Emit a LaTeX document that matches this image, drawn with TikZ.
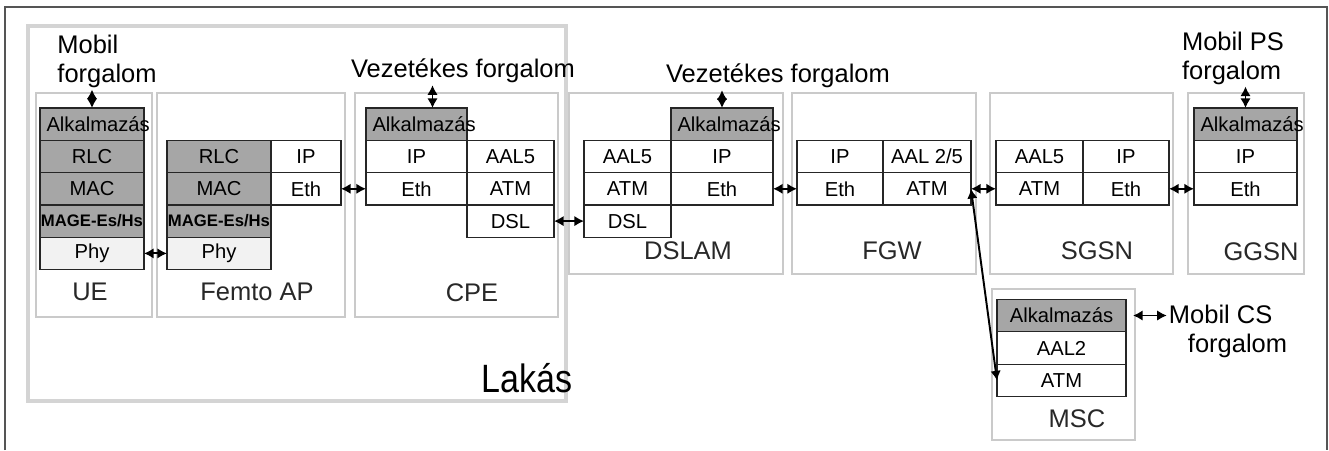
\documentclass[tikz,border=0pt]{standalone}
\usepackage{fontspec}
\setmainfont{Liberation Sans}
\newfontfamily\lakasfont[FakeStretch=0.86]{Liberation Sans}
\usetikzlibrary{arrows.meta,calc}
\definecolor{layergray}{RGB}{166,166,166}
\definecolor{phygray}{RGB}{242,242,242}
\definecolor{boxgray}{RGB}{202,202,202}
\definecolor{lakasgray}{RGB}{212,212,212}
\definecolor{framedark}{RGB}{85,85,85}
\definecolor{labelgray}{RGB}{40,40,40}

\begin{document}
\begin{tikzpicture}[x=0.02cm, y=-0.02cm]
    \tikzstyle{cell} = [rectangle, draw=black!85, line width=0.7pt, fill=white, inner sep=0pt, outer sep=0pt,
                        minimum height=0.646cm, font=\fontsize{11.5}{12}\selectfont]
    \tikzstyle{dark} = [cell, fill=layergray]
    \tikzstyle{light} = [cell, fill=phygray]
    \tikzstyle{app} = [dark, inner xsep=0.13cm, align=left]
    \tikzstyle{mage} = [dark, font=\fontsize{9.5}{10}\selectfont\bfseries]
    \tikzstyle{host} = [draw=boxgray, line width=1.6pt]
    \tikzstyle{home} = [draw=lakasgray, line width=2.8pt]
    \tikzstyle{devname} = [font=\fontsize{14.5}{15}\selectfont, text=labelgray, inner sep=1pt]
    \tikzstyle{traffic} = [font=\fontsize{14.5}{16.5}\selectfont, inner sep=1pt, align=left]
    \tikzstyle{link} = [{Latex[length=5.5pt,width=6pt]}-{Latex[length=5.5pt,width=6pt]}, line width=1.1pt, black]

    \useasboundingbox (0,0) rectangle (1329,450);
    \draw[framedark, line width=0.8pt] (5,450) -- (5,7) -- (1327,7) -- (1327,450);

    % Lakas
    \draw[home] (28,26) rectangle (566,401);
    \node[font=\lakasfont\fontsize{22.5}{24}\selectfont, inner sep=1pt] (lakas) at (527,378) {Lakás};

    % UE
    \draw[host] (36,93) rectangle (152,317);
    \node[app, minimum width=2.08cm, text width=1.82cm] (ueapp) at (92,124.2) {\mbox{Alkalmazás}};
    \node[dark, minimum width=2.08cm] (uerlc) at (92,156.5) {RLC};
    \node[dark, minimum width=2.08cm] (uemac) at (92,188.8) {MAC};
    \node[mage, minimum width=2.08cm] (uemage) at (92,221.1) {MAGE-Es/Hs};
    \node[light, minimum width=2.08cm] (uephy) at (92,253.4) {Phy};
    \node[devname] (uename) at (90,292) {UE};

    % Femto AP
    \draw[host] (157,93) rectangle (345,317);
    \node[dark, minimum width=2.08cm] (femrlc) at (219,156.5) {RLC};
    \node[dark, minimum width=2.08cm] (femmac) at (219,188.8) {MAC};
    \node[mage, minimum width=2.08cm] (femmage) at (219,221.1) {MAGE-Es/Hs};
    \node[light, minimum width=2.08cm] (femphy) at (219,253.4) {Phy};
    \node[cell, minimum width=1.40cm] (femip) at (306,156.5) {IP};
    \node[cell, minimum width=1.40cm] (femeth) at (306,188.8) {Eth};
    \node[devname] (femname) at (257,292) {Femto AP};

    % CPE
    \draw[host] (355,93) rectangle (558,317);
    \node[app, minimum width=2.02cm, text width=1.76cm] (cpeapp) at (416.5,124.2) {\mbox{Alkalmazás}};
    \node[cell, minimum width=2.02cm] (cpeip) at (416.5,156.5) {IP};
    \node[cell, minimum width=2.02cm] (cpeeth) at (416.5,188.8) {Eth};
    \node[cell, minimum width=1.74cm] (cpeaal) at (510.5,156.5) {AAL5};
    \node[cell, minimum width=1.74cm] (cpeatm) at (510.5,188.8) {ATM};
    \node[cell, minimum width=1.74cm] (cpedsl) at (510.5,221.1) {DSL};
    \node[devname] (cpename) at (472,293) {CPE};

    % DSLAM
    \draw[host] (569,93) rectangle (783,274);
    \node[cell, minimum width=1.74cm] (dslamaal) at (627.5,156.5) {AAL5};
    \node[cell, minimum width=1.74cm] (dslamatm) at (627.5,188.8) {ATM};
    \node[cell, minimum width=1.74cm] (dslamdsl) at (627.5,221.1) {DSL};
    \node[app, minimum width=2.04cm, text width=1.78cm] (dslamapp) at (722,124.2) {\mbox{Alkalmazás}};
    \node[cell, minimum width=2.04cm] (dslamip) at (722,156.5) {IP};
    \node[cell, minimum width=2.04cm] (dslameth) at (722,188.8) {Eth};
    \node[devname] (dslamname) at (688,251) {DSLAM};

    % FGW
    \draw[host] (792,93) rectangle (976,274);
    \node[cell, minimum width=1.72cm] (fgwip) at (840,156.5) {IP};
    \node[cell, minimum width=1.72cm] (fgweth) at (840,188.8) {Eth};
    \node[cell, minimum width=1.76cm] (fgwaal) at (927,156.5) {AAL 2/5};
    \node[cell, minimum width=1.76cm] (fgwatm) at (927,188.8) {ATM};
    \node[devname] (fgwname) at (892,251) {FGW};

    % SGSN
    \draw[host] (990,93) rectangle (1173,274);
    \node[cell, minimum width=1.74cm] (sgsnaal) at (1039.5,156.5) {AAL5};
    \node[cell, minimum width=1.74cm] (sgsnatm) at (1039.5,188.8) {ATM};
    \node[cell, minimum width=1.72cm] (sgsnip) at (1126,156.5) {IP};
    \node[cell, minimum width=1.72cm] (sgsneth) at (1126,188.8) {Eth};
    \node[devname] (sgsnname) at (1097,251) {SGSN};

    % GGSN
    \draw[host] (1188,93) rectangle (1304,274);
    \node[app, minimum width=2.06cm, text width=1.80cm] (ggsnapp) at (1245.5,124.2) {\mbox{Alkalmazás}};
    \node[cell, minimum width=2.06cm] (ggsnip) at (1245.5,156.5) {IP};
    \node[cell, minimum width=2.06cm] (ggsneth) at (1245.5,188.8) {Eth};
    \node[devname] (ggsnname) at (1261,252) {GGSN};

    % MSC
    \draw[host] (992,289) rectangle (1135,440);
    \node[dark, minimum width=2.58cm] (mscapp) at (1061.5,315.5) {Alkalmazás};
    \node[cell, minimum width=2.58cm] (mscaal) at (1061.5,348) {AAL2};
    \node[cell, minimum width=2.58cm] (mscatm) at (1061.5,380.5) {ATM};
    \node[devname] (mscname) at (1077,419) {MSC};

    % Traffic
    \node[traffic] (uetraffic) at (107,61) {Mobil\\forgalom};
    \node[traffic] (cpetraffic) at (463,71) {Vezetékes forgalom};
    \node[traffic] (dslamtraffic) at (778,76) {Vezetékes forgalom};
    \node[traffic] (ggsntraffic) at (1233,58) {Mobil PS\\forgalom};
    \node[traffic] (msctraffic) at (1228,331) {Mobil CS\\\hspace*{0.38cm}forgalom};

    % Connections
    \coordinate (cpeport) at ([xshift=0.32cm]cpeapp.north);
    \draw[link] (ueapp.north) -- (ueapp.north |- uetraffic.south);
    \draw[link] (cpeport) -- (cpeport |- cpetraffic.south);
    \draw[link] (dslamapp.north) -- (dslamapp.north |- dslamtraffic.south);
    \draw[link] (ggsnapp.north) -- (ggsnapp.north |- ggsntraffic.south);
    \draw[link, shorten <=0.14cm] (mscapp.east) -- (mscapp.east -| msctraffic.west);

    \draw[link] (uephy) -- (femphy);
    \draw[link] (femeth) -- (cpeeth);
    \draw[link] (cpedsl) -- (dslamdsl);
    \draw[link] (dslameth) -- (fgweth);
    \draw[link] (fgwatm) -- (sgsnatm);
    \draw[link] (sgsneth) -- (ggsneth);
    \draw[link] (fgwatm.east) -- (mscatm.west);
\end{tikzpicture}
\end{document}
